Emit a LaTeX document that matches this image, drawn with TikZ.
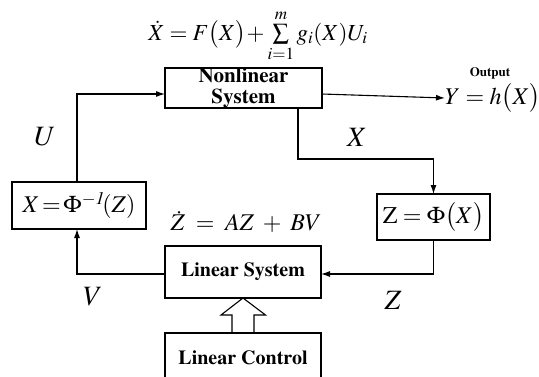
\documentclass[tikz,border=0pt]{standalone}
\usepackage[T1]{fontenc}
\usepackage{mathptmx}
\usetikzlibrary{arrows.meta,calc}
\begin{document}
\begin{tikzpicture}[x=1pt,y=-1pt,
  every node/.style={inner sep=0pt,outer sep=0pt},
  blk/.style={draw,line width=1.1pt,font=\fontsize{20}{24}\selectfont\bfseries,align=center},
  arr/.style={line width=1.1pt,-{Latex[length=9pt,width=6pt]}},
  ln/.style={line width=1.1pt},
  biglbl/.style={font=\fontsize{28}{30}\selectfont},
  eqlbl/.style={font=\fontsize{24}{28}\selectfont}]
\useasboundingbox (0,0) rectangle (539,376);
% blocks
\node[blk,font=\fontsize{21}{24}\selectfont\bfseries,minimum width=157pt,minimum height=40pt] (nl) at (243.5,88) {Nonlinear\\[-3pt]System};
\node[blk,minimum width=156pt,minimum height=52pt] (ls) at (243,272) {Linear System};
\node[blk,minimum width=156pt,minimum height=70pt,anchor=north] (lc) at (243,333) {\raisebox{20pt}{Linear Control}};
\node[draw,line width=1.1pt,eqlbl,minimum width=134pt,minimum height=47pt] (pinv) at (79,205.5) {$X\!=\!\Phi^{-\mathit{1}}\!(Z)$};
\node[draw,line width=1.1pt,eqlbl,minimum width=113pt,minimum height=46pt] (phi) at (433.5,217) {$\mathrm{Z}=\Phi\bigl(X\bigr)$};
% texts
\node[font=\fontsize{23}{27}\selectfont,anchor=base] (eq) at (258,40) {$\dot X = F\bigl(X\bigr)\!+\sum\limits_{i=1}^{m} g_i(X)U_i$};
\node[font=\fontsize{13}{15}\selectfont\bfseries] (outl) at (490,73) {Output};
\node[eqlbl,anchor=west] (yout) at (445,98) {$Y=h\bigl(X\bigr)$};
\node[font=\fontsize{24}{28}\selectfont] (zdot) at (246,222) {$\dot Z \;=\; AZ \;+\; BV$};
\node[biglbl] (ul) at (45,137) {$U$};
\node[biglbl] (xl) at (357,137) {$X$};
\node[biglbl] (vl) at (93,297) {$V$};
\node[biglbl] (zl) at (393,300) {$Z$};
% connectors
\coordinate (uin) at (77,94);
\coordinate (xc) at (298,159);
\coordinate (zc) at (433.5,274);
\draw[arr] (pinv.north -| uin) -- (uin) -- (nl.west |- uin);
\draw[arr] (nl.east |- uin) -- (yout.west);
\draw[arr] (nl.south -| xc) -- (xc) -| (phi.north);
\draw[arr] (phi.south) -- (zc) -- (ls.east |- zc);
\draw[arr] (ls.west |- zc) -| (pinv.south -| uin);
% hollow arrow
\draw[ln,line join=miter] ($(lc.north)+(-11,0)$) -- ++(0,-18) -- ++(-11,0) -- (ls.south) -- ($(ls.south)+(22.5,17)$) -- ++(-11.5,0) -- ($(lc.north)+(11,0)$);
\end{tikzpicture}
\end{document}
